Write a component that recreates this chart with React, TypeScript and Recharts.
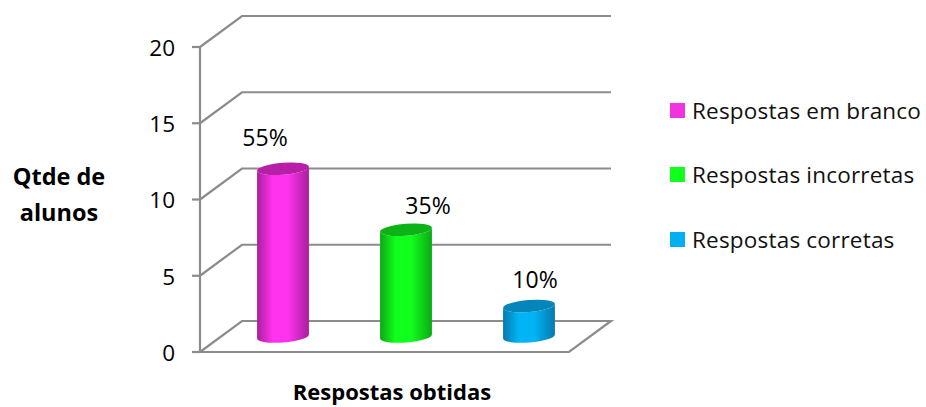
import { BarChart, Bar, XAxis, YAxis, CartesianGrid, LabelList, Legend } from "recharts";

const categories = ["Respostas em branco", "Respostas incorretas", "Respostas corretas"];
const counts = [11, 7, 2];
const percentLabels = ["55%", "35%", "10%"];
const yTicks = [0, 5, 10, 15, 20];

const data = categories.map((name, i) => ({ name, count: counts[i], label: percentLabels[i] }));

const BRIGHT = ["#ff33ee", "#11ff1d", "#00b4f6"];
const EDGE = ["#a81f9c", "#0ca814", "#0779ac"];
const TOP = ["#b81fa9", "#0db316", "#0586bb"];
const SWATCH = ["#f233e0", "#11ff1d", "#00b0f0"];

const GRID_COLOR = "#8c8c8c";
const FONT = "'Open Sans', sans-serif";
const FONT_SIZE = 22.5;

// how far the floor and walls recede into the page
const DEPTH_X = 42;
const DEPTH_Y = 31;

const LABEL_SHIFT_X = [3, 43, 27];
const LABEL_SHIFT_Y = [-38, -31, -34];

function WallLine(props: any) {
  const { x1, x2, y1, index } = props;
  const backY = y1 - DEPTH_Y;
  const isFloor = Math.abs(y1 - 352) < 1;
  const pts = isFloor
    ? [[x1, y1], [x2, y1], [x2 + DEPTH_X, backY], [x1 + DEPTH_X, backY], [x1, y1]]
    : [[x1, y1], [x1 + DEPTH_X, backY], [x2 + DEPTH_X, backY]];
  return (
    <polyline
      key={index}
      points={pts.map((p) => p.join(",")).join(" ")}
      fill="none"
      stroke={GRID_COLOR}
      strokeWidth={2.2}
    />
  );
}

function Cylinder(props: any) {
  const { x, y, width, height, index } = props;
  const rx = width / 2;
  const ry = 6;
  const tilt = -4.5;
  const cx = x + rx + DEPTH_X / 2;
  const topY = y - DEPTH_Y / 2;
  const bottomY = topY + height;
  const rise = rx * Math.sin((tilt * Math.PI) / 180);
  const run = rx * Math.cos((tilt * Math.PI) / 180);
  const body = [
    `M${cx - run},${topY - rise}`,
    `L${cx - run},${bottomY - rise}`,
    `A${rx},${ry} ${tilt} 0 0 ${cx + run},${bottomY + rise}`,
    `L${cx + run},${topY + rise}`,
    `A${rx},${ry} ${tilt} 0 1 ${cx - run},${topY - rise}`,
    "Z",
  ].join(" ");
  return (
    <g>
      <path d={body} fill={`url(#cyl-${index})`} />
      <ellipse
        cx={cx}
        cy={topY}
        rx={rx}
        ry={ry}
        fill={TOP[index]}
        transform={`rotate(${tilt} ${cx} ${topY})`}
      />
    </g>
  );
}

function PercentLabel(props: any) {
  const { x, y, width, index, value } = props;
  return (
    <text
      x={x + width / 2 + LABEL_SHIFT_X[index]}
      y={y + LABEL_SHIFT_Y[index]}
      textAnchor="middle"
      fontFamily={FONT}
      fontSize={23}
      fill="#000"
    >
      {value}
    </text>
  );
}

function LegendList() {
  return (
    <div style={{ fontFamily: FONT, fontSize: FONT_SIZE, letterSpacing: 0.2, color: "#111" }}>
      {categories.map((name, i) => (
        <div key={name} style={{ display: "flex", alignItems: "center", height: 64.5 }}>
          <span style={{ width: 15, height: 15, background: SWATCH[i], marginRight: 7 }} />
          <span style={{ whiteSpace: "nowrap" }}>{name}</span>
        </div>
      ))}
    </div>
  );
}

function YTitle() {
  return (
    <text fontFamily={FONT} fontSize={23.5} fontWeight={700} textAnchor="middle" fill="#000">
      <tspan x={59} y={185}>Qtde de</tspan>
      <tspan x={59} y={221}>alunos</tspan>
    </text>
  );
}

function XTitle() {
  return (
    <text x={392} y={400} fontFamily={FONT} fontSize={22} fontWeight={700} textAnchor="middle" fill="#000">
      Respostas obtidas
    </text>
  );
}

export default function App() {
  return (
    <div style={{ position: "absolute", left: 0, top: 0, width: 926, height: 407, background: "#fff" }}>
      <BarChart
        width={926}
        height={407}
        data={data}
        margin={{ top: 47, right: 101, bottom: 0, left: 0 }}
        barCategoryGap={0}
      >
        <defs>
          {BRIGHT.map((c, i) => (
            <linearGradient key={c} id={`cyl-${i}`} x1="0" y1="0" x2="1" y2="0">
              <stop offset="0%" stopColor={EDGE[i]} />
              <stop offset="30%" stopColor={c} />
              <stop offset="60%" stopColor={c} />
              <stop offset="100%" stopColor={EDGE[i]} />
            </linearGradient>
          ))}
        </defs>
        <CartesianGrid vertical={false} horizontal={(p: any) => <WallLine {...p} />} />
        <XAxis
          dataKey="name"
          height={55}
          tick={false}
          axisLine={false}
          tickLine={false}
          label={<XTitle />}
        />
        <YAxis
          width={200}
          domain={[0, 20]}
          ticks={yTicks}
          interval={0}
          tickSize={8}
          tickMargin={17}
          axisLine={{ stroke: GRID_COLOR, strokeWidth: 2.2 }}
          tickLine={{ stroke: GRID_COLOR, strokeWidth: 2.2 }}
          tick={{ fontFamily: FONT, fontSize: FONT_SIZE, fill: "#000", dy: 1 }}
          label={<YTitle />}
        />
        <Legend
          layout="vertical"
          align="right"
          verticalAlign="top"
          content={<LegendList />}
          wrapperStyle={{ left: 670, top: 78, width: 256 }}
        />
        <Bar dataKey="count" barSize={52} shape={<Cylinder />} isAnimationActive={false}>
          <LabelList dataKey="label" content={<PercentLabel />} />
        </Bar>
      </BarChart>
    </div>
  );
}
